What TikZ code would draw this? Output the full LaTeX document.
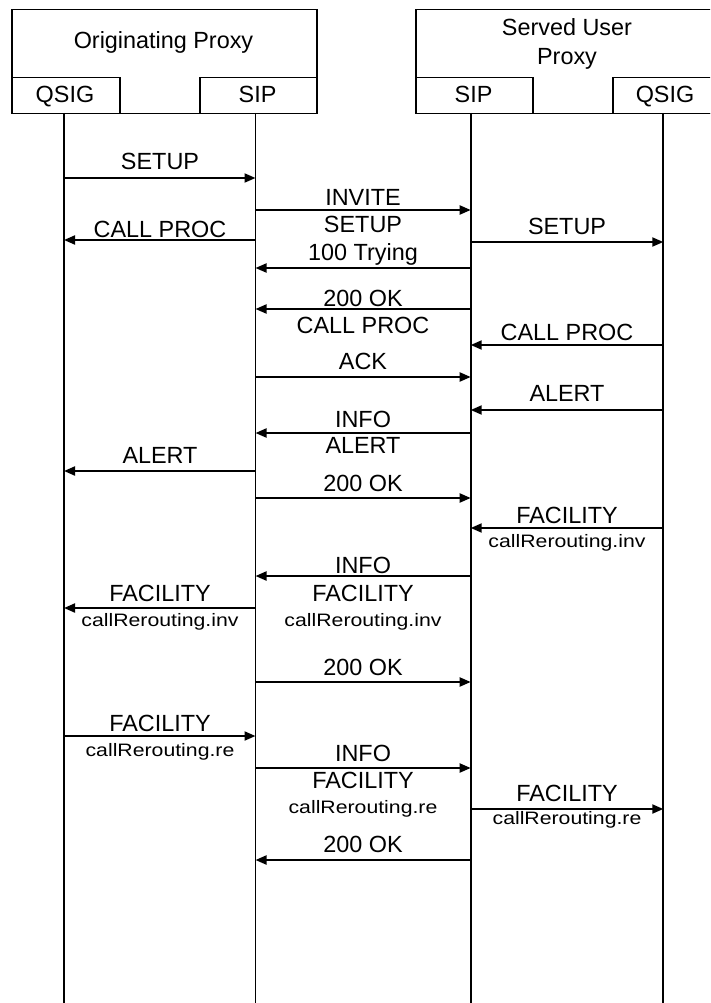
\documentclass[tikz,border=0pt]{standalone}
\usepackage{fontspec}
\setmainfont{Liberation Sans}
\newfontfamily\smallfam[FakeStretch=1.18]{Liberation Sans}
\usetikzlibrary{arrows.meta}
\begin{document}
\begin{tikzpicture}[x=1pt,y=-1pt,
  box/.style={draw, line width=1.5pt, inner sep=0pt, anchor=north west},
  life/.style={line width=1.8pt},
  msg/.style={line width=2pt, -{Triangle[length=11pt,width=9pt]}},
  lbl/.style={anchor=base, inner sep=0pt, font=\fontsize{23.4}{28}\selectfont},
  sml/.style={anchor=base, inner sep=0pt, font=\smallfam\fontsize{18}{22}\selectfont}]
\useasboundingbox (0,0) rectangle (710,1003);
\clip (0,0) rectangle (710,1003);
% entity boxes
\node[box, minimum width=305pt, minimum height=104pt] (op) at (11,9) {};
\node[box, minimum width=108pt, minimum height=36pt] (opq) at (11,77) {};
\node[box, minimum width=117pt, minimum height=36pt] (ops) at (199,77) {};
\node[box, minimum width=304pt, minimum height=104pt] (su) at (415,9) {};
\node[box, minimum width=117pt, minimum height=36pt] (sus) at (415,77) {};
\node[box, minimum width=107pt, minimum height=36pt] (suq) at (612,77) {};
\node[lbl] (opt) at (163.5,49) {Originating Proxy};
\node[lbl] (sut1) at (567,36) {Served User};
\node[lbl] (sut2) at (567,64.5) {Proxy};
\node[lbl] (opqt) at (65,103) {QSIG};
\node[lbl] (opst) at (257.5,103) {SIP};
\node[lbl] (sust) at (473.5,103) {SIP};
\node[lbl] (suqt) at (665,103) {QSIG};
% lifelines
\coordinate (L1) at (64,113);
\coordinate (L2) at (255.5,113);
\coordinate (L3) at (470.7,113);
\coordinate (L4) at (663.3,113);
\coordinate (E) at (0,1003);
\foreach \l in {L1,L2,L3,L4} \draw[life] (\l) -- (\l |- E);
% label columns
\coordinate (M1) at (160,0);
\coordinate (M2) at (363,0);
\coordinate (M3) at (567,0);
% messages
\draw[msg] (L1 |- 0,178) -- (L2 |- 0,178);
\node[lbl] (t1) at (M1 |- 0,170) {SETUP};
\draw[msg] (L2 |- 0,210) -- (L3 |- 0,210);
\node[lbl] (t2) at (M2 |- 0,205) {INVITE};
\node[lbl] (t2b) at (M2 |- 0,232) {SETUP};
\draw[msg] (L2 |- 0,240) -- (L1 |- 0,240);
\node[lbl] (t3) at (M1 |- 0,237) {CALL PROC};
\draw[msg] (L3 |- 0,242) -- (L4 |- 0,242);
\node[lbl] (t4) at (M3 |- 0,234) {SETUP};
\draw[msg] (L3 |- 0,268) -- (L2 |- 0,268);
\node[lbl] (t5) at (M2 |- 0,260) {100 Trying};
\draw[msg] (L3 |- 0,309) -- (L2 |- 0,309);
\node[lbl] (t6) at (M2 |- 0,306) {200 OK};
\node[lbl] (t6b) at (M2 |- 0,333) {CALL PROC};
\draw[msg] (L4 |- 0,345) -- (L3 |- 0,345);
\node[lbl] (t7) at (M3 |- 0,340) {CALL PROC};
\draw[msg] (L2 |- 0,377) -- (L3 |- 0,377);
\node[lbl] (t8) at (M2 |- 0,369) {ACK};
\draw[msg] (L4 |- 0,410) -- (L3 |- 0,410);
\node[lbl] (t9) at (M3 |- 0,401) {ALERT};
\draw[msg] (L3 |- 0,433) -- (L2 |- 0,433);
\node[lbl] (t10) at (M2 |- 0,427) {INFO};
\node[lbl] (t10b) at (M2 |- 0,453) {ALERT};
\draw[msg] (L2 |- 0,471) -- (L1 |- 0,471);
\node[lbl] (t11) at (M1 |- 0,463) {ALERT};
\draw[msg] (L2 |- 0,498) -- (L3 |- 0,498);
\node[lbl] (t12) at (M2 |- 0,491) {200 OK};
\draw[msg] (L4 |- 0,528) -- (L3 |- 0,528);
\node[lbl] (t13) at (M3 |- 0,523) {FACILITY};
\node[sml] (t13b) at (M3 |- 0,547) {callRerouting.inv};
\draw[msg] (L3 |- 0,576) -- (L2 |- 0,576);
\node[lbl] (t14) at (M2 |- 0,573) {INFO};
\node[lbl] (t14b) at (M2 |- 0,601) {FACILITY};
\node[sml] (t14c) at (M2 |- 0,626) {callRerouting.inv};
\draw[msg] (L2 |- 0,608) -- (L1 |- 0,608);
\node[lbl] (t15) at (M1 |- 0,601) {FACILITY};
\node[sml] (t15b) at (M1 |- 0,626) {callRerouting.inv};
\draw[msg] (L2 |- 0,682) -- (L3 |- 0,682);
\node[lbl] (t16) at (M2 |- 0,675) {200 OK};
\draw[msg] (L1 |- 0,736) -- (L2 |- 0,736);
\node[lbl] (t17) at (M1 |- 0,731) {FACILITY};
\node[sml] (t17b) at (M1 |- 0,756) {callRerouting.re};
\draw[msg] (L2 |- 0,768) -- (L3 |- 0,768);
\node[lbl] (t18) at (M2 |- 0,761) {INFO};
\node[lbl] (t18b) at (M2 |- 0,788) {FACILITY};
\node[sml] (t18c) at (M2 |- 0,813) {callRerouting.re};
\draw[msg] (L3 |- 0,809) -- (L4 |- 0,809);
\node[lbl] (t19) at (M3 |- 0,801) {FACILITY};
\node[sml] (t19b) at (M3 |- 0,824) {callRerouting.re};
\draw[msg] (L3 |- 0,860) -- (L2 |- 0,860);
\node[lbl] (t20) at (M2 |- 0,852) {200 OK};
\end{tikzpicture}
\end{document}
